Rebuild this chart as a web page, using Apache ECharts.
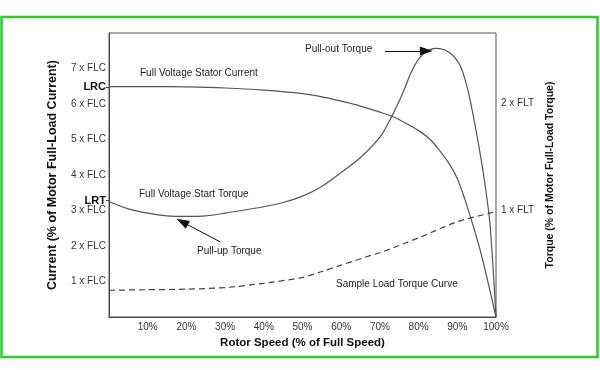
<!DOCTYPE html>
<html><head><meta charset="utf-8">
<script src="https://cdn.jsdelivr.net/npm/echarts@6/dist/echarts.min.js"></script>
<style>html,body{margin:0;padding:0;background:#fff}#c{width:600px;height:370px}</style>
</head><body><div id="c"></div>
<script>
// Rotor speed (% of full speed) and curve values
const currentX = [0, 10, 20, 30, 40, 50, 55, 60, 65, 70, 73, 76, 80, 83, 85.5, 88, 90, 92, 94, 96, 98, 100];
const currentY = [6.49, 6.49, 6.48, 6.45, 6.39, 6.29, 6.2, 6.08, 5.94, 5.77, 5.66, 5.5, 5.25, 5.0, 4.68, 4.3, 3.9, 3.3, 2.6, 1.85, 0.95, 0]; // x FLC
const torqueX = [0, 5, 10, 15, 20, 25, 30, 35, 40, 45, 50, 55, 60, 65, 70, 73, 76, 78, 80, 82, 84.3, 86.5, 88, 89.5, 91, 92.8, 94.6, 96.4, 97.5, 98.5, 100];
const torqueY = [1.08, 1.01, 0.97, 0.945, 0.94, 0.945, 0.97, 1.0, 1.03, 1.07, 1.13, 1.22, 1.35, 1.49, 1.68, 1.87, 2.1, 2.28, 2.41, 2.48, 2.51, 2.5, 2.47, 2.42, 2.33, 2.11, 1.79, 1.42, 1.15, 0.85, 0]; // x FLT
const loadX = [0, 10, 20, 30, 40, 50, 55, 60, 68, 70, 80, 90, 98.4, 100];
const loadY = [0.25, 0.255, 0.26, 0.275, 0.315, 0.37, 0.425, 0.485, 0.58, 0.6, 0.74, 0.89, 0.97, 0.985]; // x FLT
const xTicks = [10, 20, 30, 40, 50, 60, 70, 80, 90, 100];
const leftTicks = [1, 2, 3, 4, 5, 6, 7];
const LRC = 6.48, LRT = 3.28;
const rightTicks = [1, 2];
const pullOutArrow = [[71.3, 2.485], [82.0, 2.485]];
const pullUpArrow = [[28.7, 0.703], [18.9, 0.889]];

const FONT = 'Liberation Sans, Arial, sans-serif';
const pairs = (xs, ys) => xs.map((x, i) => [x, ys[i]]);
const chart = echarts.init(document.getElementById('c'), null, {renderer: 'canvas'});
const txt = (x, y, t) => ({type: 'text', x: x, y: y, silent: true,
  style: {text: t, fontSize: 10, fontFamily: FONT, fill: '#222', verticalAlign: 'middle', align: 'left'}});

chart.setOption({
  animation: false,
  backgroundColor: '#fff',
  grid: {left: 109, right: 104, top: 33, bottom: 53, show: true, borderColor: '#555', borderWidth: 1},
  xAxis: {
    type: 'value', min: 0, max: 100, interval: 10,
    name: 'Rotor Speed (% of Full Speed)', nameLocation: 'middle', nameGap: 20,
    nameTextStyle: {fontSize: 11.5, fontWeight: 'bold', color: '#111', fontFamily: FONT},
    axisLine: {show: true, lineStyle: {color: '#444'}}, axisTick: {show: false}, splitLine: {show: false},
    axisLabel: {customValues: xTicks, formatter: v => v + '%', fontSize: 10, color: '#333', fontFamily: FONT, margin: 5}
  },
  yAxis: [{
    type: 'value', min: 0, max: 8, position: 'left',
    name: 'Current (% of Motor Full-Load Current)', nameLocation: 'middle', nameGap: 50, nameRotate: 90,
    nameTextStyle: {fontSize: 12.5, fontWeight: 'bold', color: '#111', fontFamily: FONT},
    axisLine: {show: true, lineStyle: {color: '#444'}}, splitLine: {show: false},
    axisTick: {show: true, customValues: [LRT, LRC], length: 3, lineStyle: {color: '#444'}},
    axisLabel: {
      customValues: leftTicks.concat([LRT, LRC]), margin: 3, fontSize: 10, color: '#333', fontFamily: FONT,
      formatter: v => v === LRC ? '{b|LRC}' : (v === LRT ? '{b|LRT}' : v + ' x FLC'),
      rich: {b: {fontSize: 11, fontWeight: 'bold', color: '#111', fontFamily: FONT}}
    }
  }, {
    type: 'value', min: 0, max: 2.654, position: 'right',
    name: 'Torque (% of Motor Full-Load Torque)', nameLocation: 'middle', nameGap: 48, nameRotate: 90,
    nameTextStyle: {fontSize: 10.5, fontWeight: 'bold', color: '#111', fontFamily: FONT},
    axisLine: {show: false}, axisTick: {show: false}, splitLine: {show: false},
    axisLabel: {customValues: rightTicks, formatter: v => v + ' x FLT', margin: 5, fontSize: 10, color: '#333', fontFamily: FONT}
  }],
  series: [{
    name: 'Full Voltage Stator Current', type: 'line', yAxisIndex: 0, data: pairs(currentX, currentY),
    smooth: 0.3, showSymbol: false, lineStyle: {color: '#555', width: 1.2}
  }, {
    name: 'Full Voltage Start Torque', type: 'line', yAxisIndex: 1, data: pairs(torqueX, torqueY),
    smooth: 0.3, showSymbol: false, lineStyle: {color: '#555', width: 1.2},
    markLine: {
      silent: true, symbol: ['none', 'triangle'], symbolSize: [9, 13], animation: false,
      label: {show: false}, lineStyle: {color: '#111', width: 1, type: 'solid'},
      emphasis: {disabled: true},
      data: [
        [{coord: pullOutArrow[0]}, {coord: pullOutArrow[1]}],
        [{coord: pullUpArrow[0]}, {coord: pullUpArrow[1]}]
      ]
    }
  }, {
    name: 'Sample Load Torque Curve', type: 'line', yAxisIndex: 1, data: pairs(loadX, loadY),
    smooth: 0.3, showSymbol: false, lineStyle: {color: '#444', width: 1.2, type: [6, 4]}
  }],
  graphic: [
    {type: 'rect', silent: true, shape: {x: 1.5, y: 17, width: 596, height: 340},
     style: {fill: 'none', stroke: '#2ecc2e', lineWidth: 2.5}},
    txt(305, 49, 'Pull-out Torque'),
    txt(140, 73, 'Full Voltage Stator Current'),
    txt(139, 194, 'Full Voltage Start Torque'),
    txt(197, 251, 'Pull-up Torque'),
    txt(336, 284, 'Sample Load Torque Curve')
  ]
});
</script></body></html>
